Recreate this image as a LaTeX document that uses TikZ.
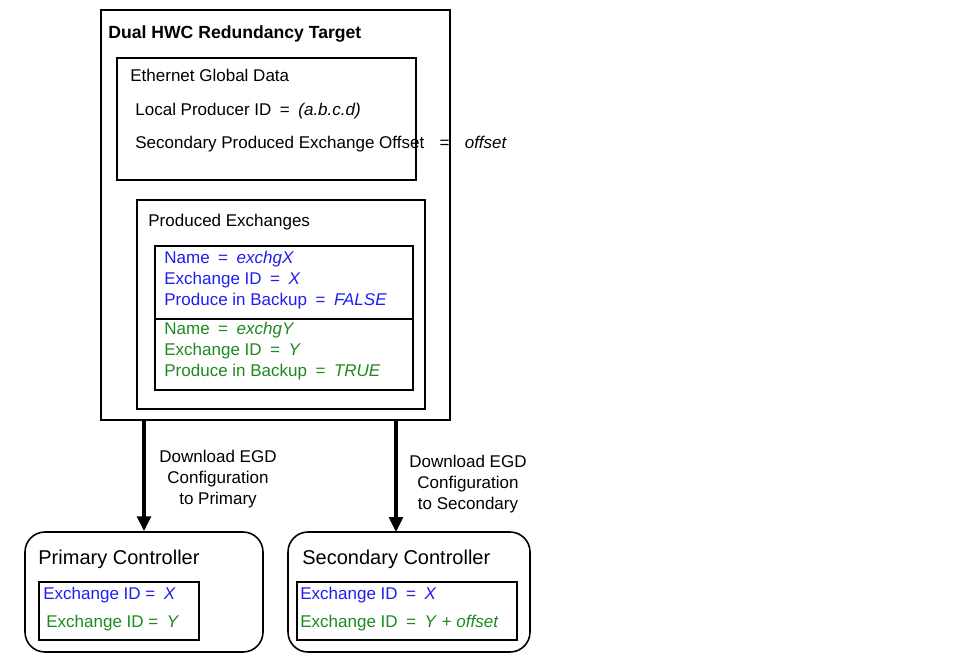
\documentclass[tikz,border=0pt]{standalone}
\usepackage{fontspec}
\setmainfont{Liberation Sans}
\usetikzlibrary{arrows.meta,positioning,fit}
\definecolor{xblue}{HTML}{1E1EF0}
\definecolor{xgreen}{HTML}{1C8A1C}
\tikzset{
  plainbox/.style={draw, thick, inner sep=0pt},
  ctrlbox/.style={plainbox, rounded corners=10pt},
  txt/.style={inner sep=0pt, anchor=base west, font=\fontsize{8.5}{10.5}\selectfont},
  bigtxt/.style={txt, font=\fontsize{10}{12}\selectfont},
  lbl/.style={inner sep=0pt, align=center, font=\fontsize{8.5}{10.5}\selectfont},
  dlarr/.style={-{Triangle[length=2.6mm, width=2.4mm]}, line width=1.6pt}
}
\begin{document}
\begin{tikzpicture}[x=0.5pt, y=-0.5pt]
  \useasboundingbox (0,0) rectangle (978,669);
  % target side
  \node[plainbox, fit={(101,10) (450,420)}] (target) {};
  \node[txt, font=\fontsize{8.8}{10.5}\selectfont\bfseries] (title) at (108,38) {Dual HWC Redundancy Target};
  \node[plainbox, fit={(117,58) (416,180)}] (egd) {};
  \node[txt] (egdname) at (130,81) {Ethernet Global Data};
  \node[txt] (prodid) at (135,115) {Local Producer ID\enspace=\enspace\textit{(a.b.c.d)}};
  \node[txt] (offs) at (135,148) {Secondary Produced Exchange Offset\hspace{0.9em}=\hspace{0.9em}\textit{offset}};
  \node[plainbox, fit={(137,200) (425,409)}] (produced) {};
  \node[txt] (prodname) at (148,226) {Produced Exchanges};
  \node[plainbox, fit={(155,246) (413,319)}] (xchgx) {};
  \node[plainbox, fit={(155,319) (413,390)}] (xchgy) {};
  \node[txt, text=xblue] (xa) at (164,263) {Name\enspace=\enspace\textit{exchgX}};
  \node[txt, text=xblue] (xb) at (164,284) {Exchange ID\enspace=\enspace\textit{X}};
  \node[txt, text=xblue] (xc) at (164,305) {Produce in Backup\enspace=\enspace\textit{FALSE}};
  \node[txt, text=xgreen] (ya) at (164,334) {Name\enspace=\enspace\textit{exchgY}};
  \node[txt, text=xgreen] (yb) at (164,355) {Exchange ID\enspace=\enspace\textit{Y}};
  \node[txt, text=xgreen] (yc) at (164,376) {Produce in Backup\enspace=\enspace\textit{TRUE}};
  % controllers
  \node[ctrlbox, fit={(25,532) (263,652)}] (primary) {};
  \node[bigtxt] (primname) at (38,564) {Primary Controller};
  \node[plainbox, fit={(39,582) (199,640)}] (primids) {};
  \node[txt, text=xblue] (pa) at (43,599) {Exchange ID =\enspace\textit{X}};
  \node[txt, text=xgreen] (pb) at (46,627) {Exchange ID =\enspace\textit{Y}};
  \node[ctrlbox, fit={(288,532) (530,652)}] (secondary) {};
  \node[bigtxt] (secname) at (302,564) {Secondary Controller};
  \node[plainbox, fit={(297,582) (517,640)}] (secids) {};
  \node[txt, text=xblue] (sa) at (300,599) {Exchange ID\enspace=\enspace\textit{X}};
  \node[txt, text=xgreen] (sb) at (300,627) {Exchange ID\enspace=\enspace\textit{Y} + \textit{offset}};
  \coordinate (secin) at (396,532);
  % downloads
  \draw[dlarr] (target.south -| primary.north) -- (primary.north);
  \draw[dlarr] (target.south -| secin) -- (secin);
  \node[lbl] (dlprim) at (218,479) {Download EGD\\Configuration\\to Primary};
  \node[lbl] (dlsec) at (468,484) {Download EGD\\Configuration\\to Secondary};
\end{tikzpicture}
\end{document}
